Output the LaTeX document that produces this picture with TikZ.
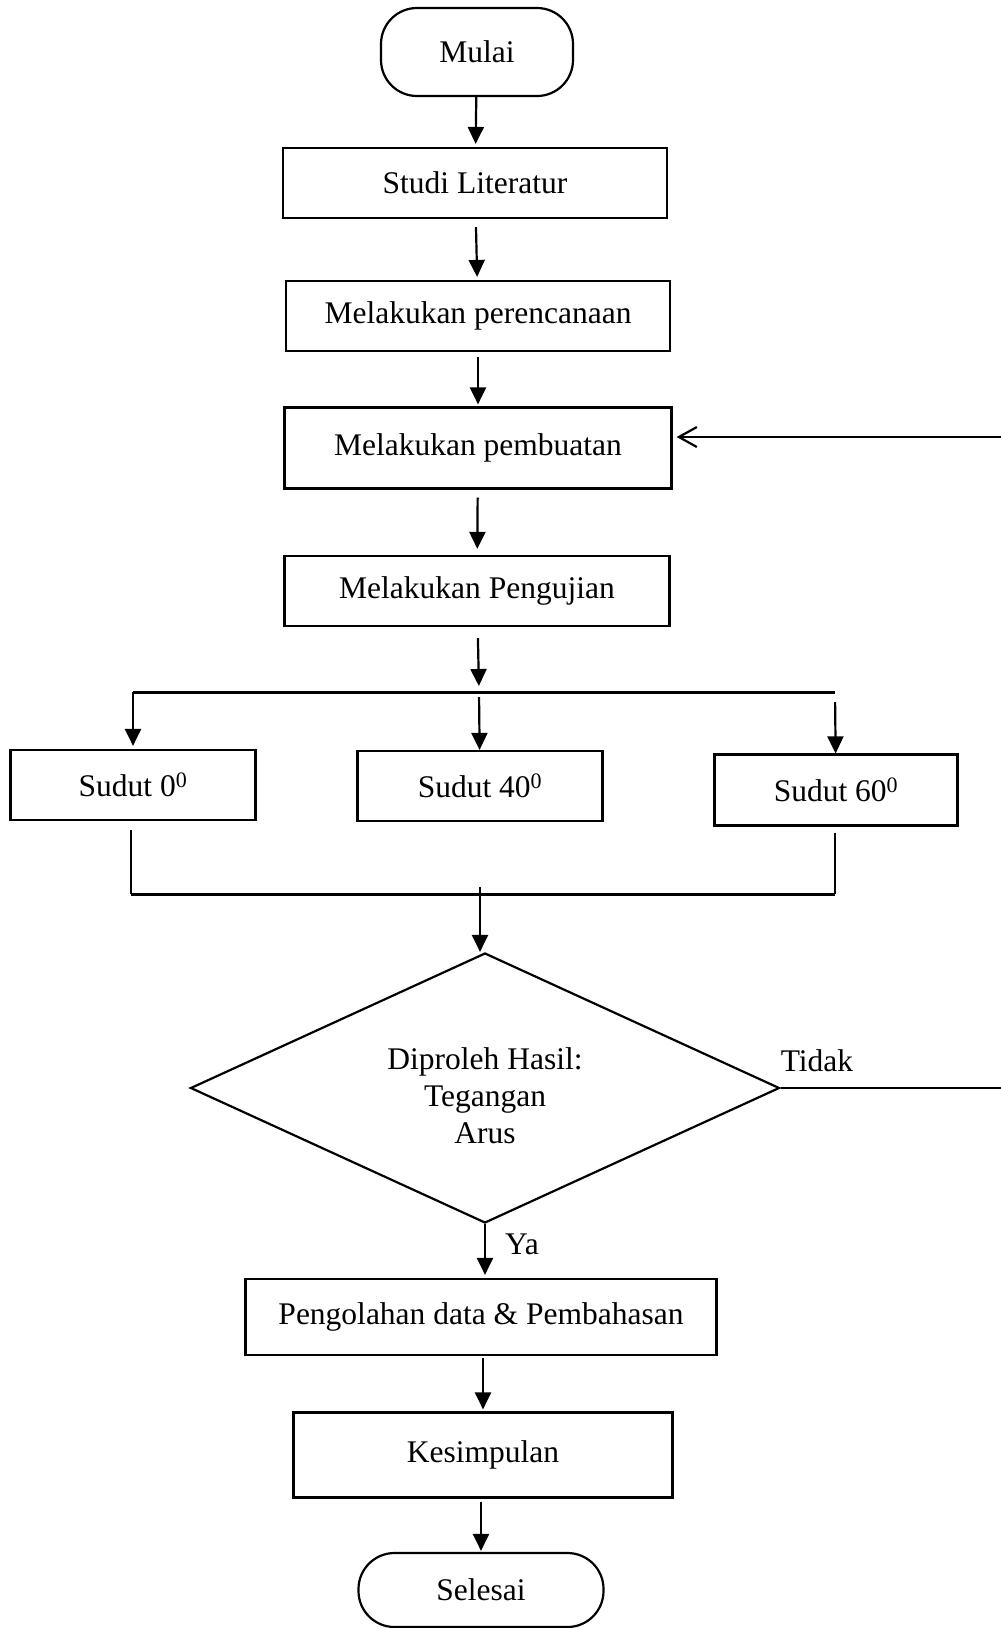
\documentclass[tikz,border=0pt]{standalone}
\usepackage{fontspec}
\setmainfont{Liberation Serif}
\usepackage{tikz}
\usetikzlibrary{positioning,arrows.meta,shapes.geometric}

\begin{document}
\begin{tikzpicture}[x=1pt,y=-1pt,
    font=\fontsize{31.5}{37}\selectfont,
    kotak/.style={draw,line width=2.2pt,inner sep=0pt},
    mulaiselesai/.style={draw,line width=2.2pt,rounded corners=36pt,inner sep=0pt},
    panah/.style={line width=2.2pt,-{Triangle[length=17pt,width=16pt]}},
    garis/.style={line width=2.2pt}]
    \useasboundingbox (0,0) rectangle (1001,1628);
    \node[mulaiselesai,minimum width=192pt,minimum height=88pt] (mulai) at (477,52) {Mulai};
    \node[kotak,minimum width=384pt,minimum height=70pt] (studi) at (475,183) {Studi Literatur};
    \node[kotak,minimum width=384pt,minimum height=70pt] (rencana) at (478,316) {Melakukan perencanaan};
    \node[kotak,minimum width=387pt,minimum height=81pt] (buat) at (478,448) {Melakukan pembuatan};
    \node[kotak,minimum width=385pt,minimum height=70pt] (uji) at (477,591) {Melakukan Pengujian};
    \node[kotak,minimum width=245pt,minimum height=70pt] (sudut0) at (133,785) {Sudut 0\textsuperscript{0}};
    \node[kotak,minimum width=245pt,minimum height=70pt] (sudut40) at (480,786) {Sudut 40\textsuperscript{0}};
    \node[kotak,minimum width=243pt,minimum height=71pt] (sudut60) at (836,790) {Sudut 60\textsuperscript{0}};
    \node[draw,line width=2.2pt,diamond,aspect=2.18,inner sep=0pt,minimum width=589pt,minimum height=270pt] (hasil) at (485,1088)
        {\raisebox{-17pt}[0pt][0pt]{\begin{tabular}{@{}c@{}}Diproleh Hasil:\\Tegangan\\Arus\end{tabular}}};
    \node[kotak,minimum width=471pt,minimum height=76pt] (olah) at (481,1317) {Pengolahan data \& Pembahasan};
    \node[kotak,minimum width=379pt,minimum height=85pt] (simpul) at (483,1455) {Kesimpulan};
    \node[mulaiselesai,minimum width=245pt,minimum height=74pt] (selesai) at (481,1590) {Selesai};
    \node (tidak) at (817,1061) {Tidak};
    \node (ya) at (522,1244) {Ya};

    \coordinate (pecahL) at (133,692);
    \coordinate (pecahM) at (479,692);
    \coordinate (pecahR) at (835,692);
    \coordinate (gabungL) at (131,894);
    \coordinate (gabungM) at (480,894);
    \coordinate (gabungR) at (835,894);
    \coordinate (kanan1) at (1001,1088);
    \coordinate (kanan2) at (1001,437);

    \draw[panah,shorten >=3pt] (mulai) -- (studi);
    \draw[panah,shorten <=8pt,shorten >=3pt] (studi) -- (rencana);
    \draw[panah,shorten <=5pt,shorten >=2pt] (rencana) -- (buat);
    \draw[panah,shorten <=8pt,shorten >=6pt] (buat) -- (uji);
    \draw[panah,shorten <=11pt,shorten >=6pt] (uji) -- (pecahM);
    \draw[line width=3pt] (pecahL) -- (pecahR);
    \draw[panah,shorten >=3pt] (pecahL) -- (sudut0);
    \draw[panah,shorten <=5pt] (pecahM) -- (sudut40);
    \draw[panah,shorten <=10pt] (pecahR) -- (sudut60);
    \draw[line width=1.5pt,shorten <=9pt] (sudut0.south -| gabungL) -- (gabungL);
    \draw[line width=1.5pt,shorten <=6pt] (sudut60.south -| gabungR) -- (gabungR);
    \draw[line width=3pt] (gabungL) -- (gabungR);
    \draw[panah,shorten <=-7pt] (gabungM) -- (gabungM |- hasil.north);
    \draw[garis] (hasil.east) -- (kanan1);
    \draw[line width=2.2pt,-{Straight Barb[length=18pt,width=20pt]},shorten >=4pt] (kanan2) -- (kanan2 -| buat.east);
    \draw[panah,shorten >=3pt] (hasil.south) -- (hasil.south |- olah.north);
    \draw[panah,shorten <=2pt,shorten >=2pt] (olah.south -| simpul) -- (simpul);
    \draw[panah,shorten <=3pt,shorten >=1pt] (simpul.south -| selesai) -- (selesai);
\end{tikzpicture}
\end{document}
